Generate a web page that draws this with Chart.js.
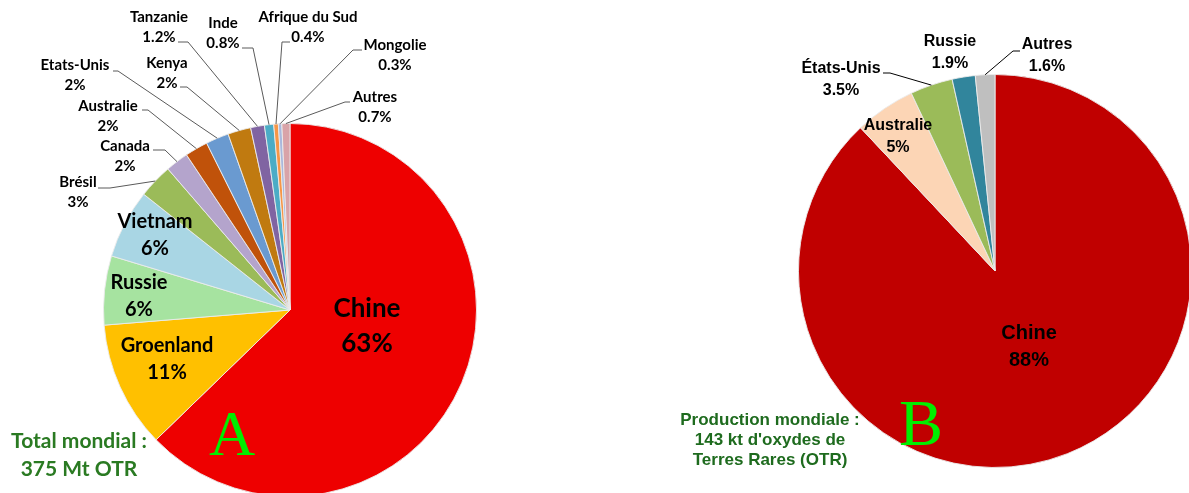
<!DOCTYPE html>
<html>
<head>
<meta charset="utf-8">
<script src="https://cdn.jsdelivr.net/npm/chart.js@4.4.0/dist/chart.umd.min.js"></script>
<style>
  html, body { margin: 0; padding: 0; width: 1189px; height: 493px; overflow: hidden; background: #fff; }
  canvas { position: absolute; top: 0; }
  #pieA { left: 0; }
  #pieB { left: 600px; }
</style>
</head>
<body>
<canvas id="pieA" width="600" height="500"></canvas>
<canvas id="pieB" width="600" height="500"></canvas>
<script>
// Réserves mondiales (A)
const reservesPays = ['Chine', 'Groenland', 'Russie', 'Vietnam', 'Brésil', 'Canada', 'Australie', 'Etats-Unis', 'Kenya', 'Tanzanie', 'Inde', 'Afrique du Sud', 'Mongolie', 'Autres'];
const reservesPct = [63, 11, 6, 6, 3, 2, 2, 2, 2, 1.2, 0.8, 0.4, 0.3, 0.7];
const reservesCouleurs = ['#ee0000', '#ffc000', '#a6e3a0', '#a9d6e4', '#9bbb59', '#b4a4cc', '#c0520a', '#6a9ad0', '#c07a10', '#8064a2', '#4bacc6', '#f79646', '#aab8dc', '#d9a3a8'];

// Production mondiale (B)
const productionPays = ['Chine', 'Australie', 'États-Unis', 'Russie', 'Autres'];
const productionPct = [88, 5, 3.5, 1.9, 1.6];
const productionCouleurs = ['#c00000', '#fcd5b5', '#9bbb59', '#31859c', '#bfbfbf'];

// placement des étiquettes (x, y du nom ; trait de rappel [x1, y, x2] vers la part)
const posA = [
  { x: 367, y: 309, size: 26 },
  { x: 167, y: 346, size: 20 },
  { x: 139, y: 283, size: 20 },
  { x: 155, y: 222, size: 20 },
  { x: 78,  y: 182, size: 15, lead: [98, 188, 110] },
  { x: 125, y: 146, size: 15, lead: [153, 150, 165] },
  { x: 108, y: 106, size: 15, lead: [142, 110, 148] },
  { x: 75,  y: 65,  size: 15, lead: [113, 71, 118] },
  { x: 167, y: 63,  size: 15, lead: [180, 87, 187] },
  { x: 159, y: 17,  size: 15, lead: [178, 42, 188] },
  { x: 223, y: 23,  size: 15, lead: [242, 48, 253] },
  { x: 308, y: 17,  size: 15, lead: [290, 42, 282] },
  { x: 395, y: 45,  size: 15, lead: [362, 50, 353] },
  { x: 375, y: 97,  size: 15, lead: [350, 102, 345] }
];
const posB = [
  { x: 1029, y: 333, size: 20 },
  { x: 898,  y: 126, size: 16 },
  { x: 841,  y: 69,  size: 16, lead: [883, 73, 890] },
  { x: 950,  y: 42,  size: 16 },
  { x: 1047, y: 45,  size: 16, lead: [1020, 51, 1013] }
];

const etiquettes = {
  id: 'etiquettes',
  afterDatasetsDraw(chart, args, opts) {
    const ctx = chart.ctx;
    const meta = chart.getDatasetMeta(0);
    const labels = chart.data.labels;
    const values = chart.data.datasets[0].data;
    const dx = opts.offsetX || 0;
    ctx.save();
    ctx.textAlign = 'center';
    ctx.textBaseline = 'middle';
    opts.pos.forEach((p, i) => {
      const arc = meta.data[i];
      if (p.lead) {
        const mid = (arc.startAngle + arc.endAngle) / 2;
        const ex = arc.x + Math.cos(mid) * arc.outerRadius;
        const ey = arc.y + Math.sin(mid) * arc.outerRadius;
        ctx.strokeStyle = opts.leadColor;
        ctx.lineWidth = 1;
        ctx.beginPath();
        ctx.moveTo(p.lead[0] - dx, p.lead[1]);
        ctx.lineTo(p.lead[2] - dx, p.lead[1]);
        ctx.lineTo(ex, ey);
        ctx.stroke();
      }
      ctx.fillStyle = '#000';
      ctx.font = 'bold ' + p.size + 'px ' + opts.family;
      ctx.fillText(labels[i], p.x - dx, p.y);
      ctx.fillText(values[i] + '%', p.x - dx, p.y + Math.round(p.size * 1.35));
    });
    // texte vert et lettre repère
    ctx.fillStyle = opts.noteColor;
    ctx.font = 'bold ' + opts.noteSize + 'px ' + opts.family;
    opts.note.forEach((t, k) => ctx.fillText(t, opts.noteX - dx, opts.noteY + k * opts.noteGap));
    ctx.fillStyle = '#00ee00';
    ctx.textBaseline = 'alphabetic';
    ctx.font = opts.letterSize + 'px "Liberation Serif", "DejaVu Serif", serif';
    ctx.fillText(opts.letter, opts.letterX - dx, opts.letterY);
    ctx.restore();
  }
};

function pie(id, pays, pct, couleurs, padding, plugOpts) {
  return new Chart(document.getElementById(id), {
    type: 'pie',
    data: {
      labels: pays,
      datasets: [{ data: pct, backgroundColor: couleurs, borderColor: 'rgba(235,235,235,0.9)', borderWidth: 1 }]
    },
    options: {
      responsive: false,
      animation: false,
      events: [],
      layout: { padding: padding },
      plugins: { legend: { display: false }, tooltip: { enabled: false }, etiquettes: plugOpts }
    },
    plugins: [etiquettes]
  });
}

pie('pieA', reservesPays, reservesPct, reservesCouleurs,
  { left: 103, top: 123, right: 123, bottom: 3 },
  {
    pos: posA, offsetX: 0, family: 'Lato, "Open Sans", sans-serif', leadColor: '#5a5a5a',
    note: ['Total mondial :', '375 Mt OTR'], noteColor: '#2a7a22', noteSize: 21, noteX: 79, noteY: 441, noteGap: 28,
    letter: 'A', letterSize: 64, letterX: 232, letterY: 455
  });

pie('pieB', productionPays, productionPct, productionCouleurs,
  { left: 198, top: 74, right: 8, bottom: 32 },
  {
    pos: posB, offsetX: 600, family: '"Liberation Sans", Arial, sans-serif', leadColor: '#000',
    note: ['Production mondiale :', "143 kt d'oxydes de", 'Terres Rares (OTR)'], noteColor: '#1e6b1e', noteSize: 17, noteX: 770, noteY: 420, noteGap: 20,
    letter: 'B', letterSize: 66, letterX: 921, letterY: 445
  });
</script>
</body>
</html>
